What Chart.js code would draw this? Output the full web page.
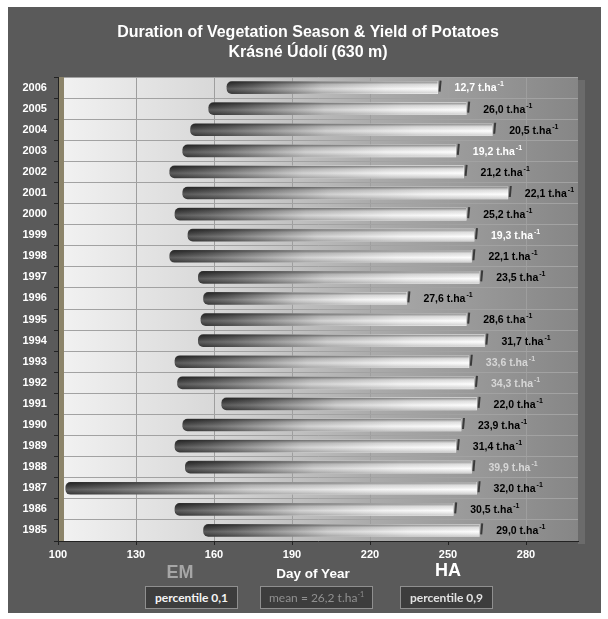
<!DOCTYPE html>
<html>
<head>
<meta charset="utf-8">
<script src="https://cdn.jsdelivr.net/npm/chart.js@4/dist/chart.umd.min.js"></script>
<style>
  body { margin: 0; background: #fff; overflow: hidden; }
  #wrap { position: relative; width: 608px; height: 619px; }
  #c { position: absolute; left: 0; top: 0; }
  .lbl { position: absolute; transform: translate(-50%, -50%); font-family: 'Liberation Sans', Arial, sans-serif; font-weight: bold; white-space: nowrap; }
  .box { position: absolute; top: 586px; height: 21px; line-height: 21px; background: #3d3d3d; border: 1px solid #8f8f8f; text-align: center; font-family: Lato, 'Noto Sans', sans-serif; font-size: 12px; white-space: nowrap; }
  .box sup { font-size: 7px; vertical-align: 5px; line-height: 0; }
</style>
</head>
<body>
<div id="wrap">
  <canvas id="c" width="608" height="619"></canvas>
  <div class="lbl" style="left:180px;top:572px;font-size:18px;color:#a6a6a6">EM</div>
  <div class="lbl" style="left:313px;top:573px;font-size:13.5px;color:#fff">Day of Year</div>
  <div class="lbl" style="left:448px;top:570px;font-size:18px;color:#fff">HA</div>
  <div class="box" id="p10" style="left:145px;width:91px;color:#f4f4f4;font-weight:bold"></div>
  <div class="box" id="mean" style="left:260px;width:111px;color:#909090"></div>
  <div class="box" id="p90" style="left:400px;width:91px;color:#e2e2e2;font-weight:bold"></div>
</div>
<script>
const years = ['2006', '2005', '2004', '2003', '2002', '2001', '2000', '1999', '1998', '1997', '1996',
  '1995', '1994', '1993', '1992', '1991', '1990', '1989', '1988', '1987', '1986', '1985'];
// day of year of emergence (EM) and harvest (HA)
const emergence = [165, 158, 151, 148, 143, 148, 145, 150, 143, 154, 156, 155, 154, 145, 146, 163, 148, 145, 149, 103, 145, 156];
const harvest = [246, 257, 267, 253, 256, 273, 257, 260, 259, 262, 234, 257, 264, 258, 260, 261, 255, 253, 259, 261, 252, 262];
// yield t/ha
const yields = [12.7, 26.0, 20.5, 19.2, 21.2, 22.1, 25.2, 19.3, 22.1, 23.5, 27.6, 28.6, 31.7, 33.6, 34.3, 22.0, 23.9, 31.4, 39.9, 32.0, 30.5, 29.0];
const xTicks = [100, 130, 160, 190, 220, 250, 280];

function percentile(arr, p) {
  const s = arr.slice().sort((a, b) => a - b);
  const r = p * (s.length - 1), lo = Math.floor(r);
  return s[lo] + (r - lo) * ((s[lo + 1] ?? s[lo]) - s[lo]);
}
const p10 = percentile(yields, 0.1);
const p90 = percentile(yields, 0.9);
const mean = yields.reduce((a, b) => a + b, 0) / yields.length;
const comma = v => v.toFixed(1).replace('.', ',');

document.getElementById('p10').textContent = 'percentile  0,1';
document.getElementById('p90').textContent = 'percentile  0,9';
document.getElementById('mean').innerHTML = 'mean = ' + comma(mean) + '  t.ha<sup>-1</sup>';

const FONT = "'Liberation Sans', Arial, sans-serif";
const NARROW = "'Liberation Sans Narrow', 'Liberation Sans', Arial, sans-serif";

const decor = {
  id: 'decor',
  beforeDraw(chart) {
    const c = chart.ctx, a = chart.chartArea;
    c.save();
    c.fillStyle = '#fff';
    c.fillRect(0, 0, chart.width, chart.height);
    c.fillStyle = '#5a5a5a';
    c.fillRect(8, 7, 593, 606);
    const g = c.createLinearGradient(a.left, 0, a.right, 0);
    g.addColorStop(0, '#f2f2f2');
    g.addColorStop(0.3, '#d8d8d8');
    g.addColorStop(0.6, '#ababab');
    g.addColorStop(1, '#868686');
    c.fillStyle = g;
    c.fillRect(a.left, a.top, a.right - a.left, a.bottom - a.top);
    // 3d side wall
    c.fillStyle = '#6b6b6b';
    c.fillRect(a.right, a.top + 3, 7, a.bottom - a.top);
    c.restore();
  },
  beforeDatasetsDraw(chart) {
    const c = chart.ctx, a = chart.chartArea;
    c.save();
    c.fillStyle = '#8c846a';
    c.fillRect(a.left + 1, a.top, 5, a.bottom - a.top);
    c.restore();
  },
  afterDatasetsDraw(chart) {
    const c = chart.ctx;
    const meta = chart.getDatasetMeta(0);
    c.save();
    meta.data.forEach((bar, i) => {
      const { x, y, base, height } = bar.getProps(['x', 'y', 'base', 'height'], true);
      if (![x, y, base, height].every(Number.isFinite)) return;
      const left = Math.min(x, base), right = Math.max(x, base), top = y - height / 2;
      // cylinder shading
      const v = c.createLinearGradient(0, top, 0, top + height);
      v.addColorStop(0, 'rgba(0,0,0,0.45)');
      v.addColorStop(0.25, 'rgba(0,0,0,0.12)');
      v.addColorStop(0.6, 'rgba(255,255,255,0.15)');
      v.addColorStop(1, 'rgba(0,0,0,0.18)');
      c.fillStyle = v;
      c.beginPath();
      c.roundRect(left, top, right - left, height, [5, 0, 0, 5]);
      c.fill();
      // end cap
      c.strokeStyle = '#3a3a3a';
      c.lineWidth = 2;
      c.beginPath();
      c.moveTo(right + 3, y - 7);
      c.lineTo(right + 2, y + 4);
      c.stroke();
      // value label
      const val = yields[i];
      c.fillStyle = val <= p10 ? '#ffffff' : (val >= p90 ? '#d6d6d6' : '#000000');
      c.textBaseline = 'middle';
      c.textAlign = 'left';
      c.font = 'bold 10.5px ' + NARROW;
      const txt = comma(val) + ' t.ha';
      const tx = right + 17;
      c.fillText(txt, tx, y + 1);
      const w = c.measureText(txt).width;
      c.font = 'bold 7px ' + NARROW;
      c.fillText('-1', tx + w + 1, y - 3);
    });
    c.restore();
  }
};

const ctx = document.getElementById('c').getContext('2d');
new Chart(ctx, {
  type: 'bar',
  data: {
    labels: years,
    datasets: [{
      label: 'Vegetation season',
      data: emergence.map((e, i) => [e, harvest[i]]),
      barThickness: 12,
      borderWidth: 0,
      borderSkipped: false,
      borderRadius: { topLeft: 5, bottomLeft: 5, topRight: 0, bottomRight: 0 },
      backgroundColor: function (context) {
        const sx = context.chart.scales.x;
        if (!sx || !context.raw) return '#cccccc';
        const x0 = sx.getPixelForValue(context.raw[0]);
        const x1 = sx.getPixelForValue(context.raw[1]);
        if (!Number.isFinite(x0) || !Number.isFinite(x1) || x0 === x1) return '#cccccc';
        const g = context.chart.ctx.createLinearGradient(x0, 0, x1, 0);
        g.addColorStop(0, '#3e3e3e');
        g.addColorStop(0.12, '#5c5c5c');
        g.addColorStop(0.45, '#c9c9c9');
        g.addColorStop(0.75, '#f1f1f1');
        g.addColorStop(1, '#fdfdfd');
        return g;
      }
    }]
  },
  options: {
    indexAxis: 'y',
    responsive: false,
    animation: false,
    layout: { padding: { top: 7, left: 38, right: 30, bottom: 0 } },
    plugins: {
      legend: { display: false },
      tooltip: { enabled: false },
      title: {
        display: true,
        text: ['Duration of Vegetation Season & Yield of Potatoes', 'Krásné Údolí (630 m)'],
        color: '#ffffff',
        font: { family: FONT, size: 16, weight: 'bold', lineHeight: 1.2 },
        padding: { top: 16.4, bottom: 15.2 }
      }
    },
    scales: {
      x: {
        type: 'linear',
        min: 100,
        max: 300,
        afterFit: s => { s.height = 78; },
        afterBuildTicks: s => { s.ticks = xTicks.map(v => ({ value: v })); },
        ticks: {
          color: '#ffffff',
          padding: 3,
          font: { family: FONT, size: 11, weight: 'bold' }
        },
        grid: { color: '#9e9e9e', tickColor: '#222222', tickLength: 4 },
        border: { color: '#222222', width: 1 }
      },
      y: {
        offset: true,
        afterFit: s => { s.width = 20; },
        ticks: {
          color: '#ffffff',
          mirror: true,
          crossAlign: 'far',
          padding: -35.5,
          font: { family: FONT, size: 11, weight: 'bold' }
        },
        grid: { offset: true, color: '#a2a2a2', tickColor: '#222222', tickLength: 4 },
        border: { color: '#222222', width: 1 }
      }
    }
  },
  plugins: [decor]
});
</script>
</body>
</html>
